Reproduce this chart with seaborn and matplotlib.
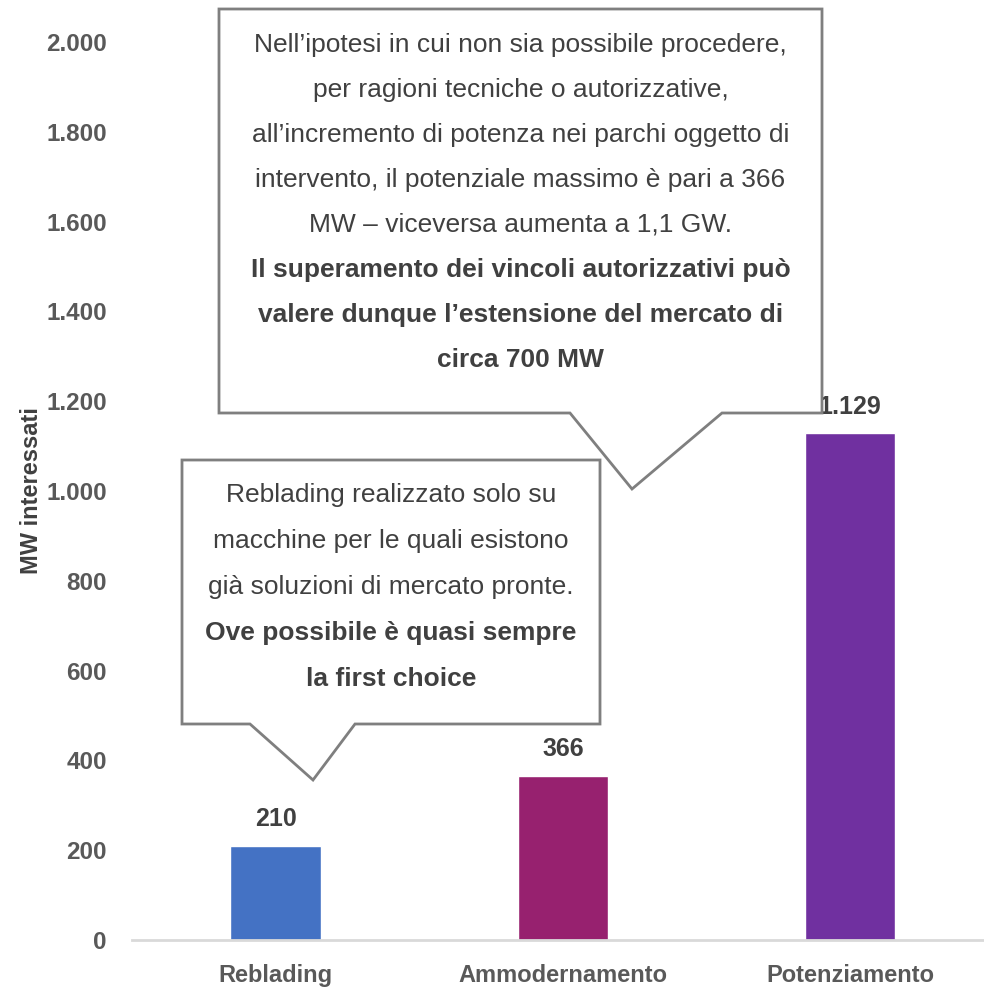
import matplotlib
matplotlib.use("Agg")
import matplotlib.pyplot as plt
import seaborn as sns
import pandas as pd
from matplotlib.patches import Polygon
from matplotlib.ticker import FuncFormatter

# dati
categorie = ["Reblading", "Ammodernamento", "Potenziamento"]
mw_interessati = [210, 366, 1129]
colori = ["#4472C4", "#97216F", "#7030A0"]
y_ticks = list(range(0, 2001, 200))

testo_grande = [
    ("Nell\u2019ipotesi in cui non sia possibile procedere,", "normal"),
    ("per ragioni tecniche o autorizzative,", "normal"),
    ("all\u2019incremento di potenza nei parchi oggetto di", "normal"),
    ("intervento, il potenziale massimo è pari a 366", "normal"),
    ("MW \u2013 viceversa aumenta a 1,1 GW.", "normal"),
    ("Il superamento dei vincoli autorizzativi può", "bold"),
    ("valere dunque l\u2019estensione del mercato di", "bold"),
    ("circa 700 MW", "bold"),
]
testo_piccolo = [
    ("Reblading realizzato solo su", "normal"),
    ("macchine per le quali esistono", "normal"),
    ("già soluzioni di mercato pronte.", "normal"),
    ("Ove possibile è quasi sempre", "bold"),
    ("la first choice", "bold"),
]

W, H = 984, 991
TXT = "#404040"
TICK = "#595959"

sns.set_theme(style="white")
plt.rcParams["font.family"] = ["Liberation Sans Narrow", "Liberation Sans", "DejaVu Sans"]

df = pd.DataFrame({"cat": categorie, "mw": mw_interessati})

fig = plt.figure(figsize=(W / 100, H / 100), dpi=100)
ax = fig.add_axes([132 / W, 51 / H, (W - 132) / W + 0.01, (940 - 42) / H])

sns.barplot(data=df, x="cat", y="mw", hue="cat", palette=colori, legend=False,
            width=0.315, saturation=1, ax=ax)

ax.set_ylim(0, 2000)
ax.set_xlim(-0.5, 2.5)
ax.set_yticks(y_ticks)
ax.yaxis.set_major_formatter(FuncFormatter(lambda v, p: f"{int(v):,}".replace(",", ".")))
for s in ["top", "right", "left"]:
    ax.spines[s].set_visible(False)
ax.spines["bottom"].set_color("#D9D9D9")
ax.spines["bottom"].set_linewidth(2)
ax.tick_params(axis="y", length=0, pad=18, labelsize=17.5, labelcolor=TICK)
ax.tick_params(axis="x", length=0, pad=17, labelsize=17, labelcolor=TICK)
for lab in ax.get_xticklabels() + ax.get_yticklabels():
    lab.set_fontweight("bold")
ax.set_xlabel("")
ax.set_ylabel("MW interessati", fontsize=17, fontweight="bold", color=TXT)
ax.yaxis.set_label_coords(-(132 - 44) / (W - 132), 0.5)

for i, v in enumerate(mw_interessati):
    ax.annotate(f"{v:,}".replace(",", "."), (i, v), xytext=(0, 19), textcoords="offset points",
                ha="center", va="center", fontsize=18, fontweight="bold", color=TXT)


def px(x, y):
    return (x / W, 1 - y / H)


def callout(box, punta, righe, cy0, passo):
    x0, y0, x1, y1 = box
    a, tip, b = punta
    pts = [(x0, y0), (x1, y0), (x1, y1), (b, y1), tip, (a, y1), (x0, y1)]
    poly = Polygon([px(*p) for p in pts], closed=True, transform=fig.transFigure,
                   facecolor="white", edgecolor="#7F7F7F", linewidth=2, zorder=5)
    fig.patches.append(poly)
    cx = (x0 + x1) / 2
    for k, (riga, peso) in enumerate(righe):
        fig.text(*px(cx, cy0 + k * passo), riga, ha="center", va="center",
                 fontsize=19, fontweight=peso, color=TXT, zorder=6)


callout((219, 9, 822, 413), (570, (632, 489), 722), testo_grande, 45, 45)
callout((182, 460, 600, 724), (250, (313, 780), 355), testo_piccolo, 495, 46)

fig.savefig("out.png", dpi=100)
